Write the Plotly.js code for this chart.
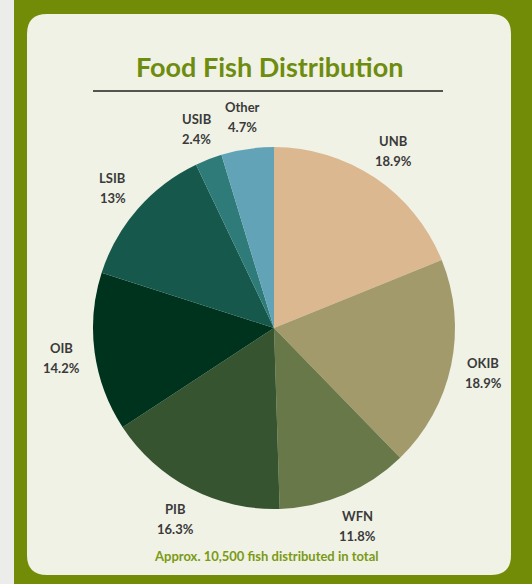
<!DOCTYPE html>
<html>
<head>
<meta charset="utf-8">
<script src="https://cdn.plot.ly/plotly-3.0.1.min.js"></script>
<style>html,body{margin:0;padding:0;background:#ececea;}#chart{width:532px;height:584px;}</style>
</head>
<body>
<div id="chart"></div>
<script>
const categories = ["UNB", "OKIB", "WFN", "PIB", "OIB", "LSIB", "USIB", "Other"];
const shares = [18.9, 18.9, 11.8, 16.3, 14.2, 13, 2.4, 4.7];
const sliceColors = ["#dcb891", "#a39a6c", "#687848", "#35542f", "#00331d", "#16584c", "#2f7b7a", "#62a3b8"];

const W = 532, H = 584;
const cx = 274, cy = 328, R = 181, labelR = 214;

const total = shares.reduce((a, b) => a + b, 0);
const annotations = [];
let acc = 0;
shares.forEach((v, i) => {
  const mid = (acc + v / 2) / total * 2 * Math.PI;
  acc += v;
  const px = cx + labelR * Math.sin(mid);
  const py = cy - labelR * Math.cos(mid);
  const font = {family: "Lato, 'Open Sans', sans-serif", size: 13, color: "#3a3a3a"};
  annotations.push({xref: "paper", yref: "paper", x: px / W, y: 1 - (py - 9) / H,
    text: "<b>" + categories[i] + "</b>", showarrow: false, font: font, xanchor: "center", yanchor: "middle"});
  annotations.push({xref: "paper", yref: "paper", x: px / W, y: 1 - (py + 11) / H,
    text: "<b>" + v + "%</b>", showarrow: false, font: font, xanchor: "center", yanchor: "middle"});
});

annotations.push({xref: "paper", yref: "paper", x: 269 / W, y: 1 - 67 / H,
  text: "<b>Food Fish Distribution</b>", showarrow: false, xanchor: "center", yanchor: "middle",
  font: {family: "Lato, 'Open Sans', sans-serif", size: 27, color: "#6e8c0e"}});
annotations.push({xref: "paper", yref: "paper", x: 266 / W, y: 1 - 556 / H,
  text: "<b>Approx. 10,500 fish distributed in total</b>", showarrow: false, xanchor: "center", yanchor: "middle",
  font: {family: "Lato, 'Open Sans', sans-serif", size: 13, color: "#7a9a14"}});

function rr(x0, y0, x1, y1, r) {
  const X = x => x / W, Y = y => 1 - y / H;
  return `M ${X(x0 + r)} ${Y(y0)} L ${X(x1 - r)} ${Y(y0)} Q ${X(x1)} ${Y(y0)} ${X(x1)} ${Y(y0 + r)} ` +
    `L ${X(x1)} ${Y(y1 - r)} Q ${X(x1)} ${Y(y1)} ${X(x1 - r)} ${Y(y1)} L ${X(x0 + r)} ${Y(y1)} ` +
    `Q ${X(x0)} ${Y(y1)} ${X(x0)} ${Y(y1 - r)} L ${X(x0)} ${Y(y0 + r)} Q ${X(x0)} ${Y(y0)} ${X(x0 + r)} ${Y(y0)} Z`;
}

const shapes = [
  {type: "rect", xref: "paper", yref: "paper", x0: 14 / W, x1: 1, y0: 0, y1: 1, fillcolor: "#738c08", line: {width: 0}, layer: "below"},
  {type: "path", xref: "paper", yref: "paper", path: rr(27, 14, 511, 575, 20), fillcolor: "#f0f2e6", line: {width: 0}, layer: "below"},
  {type: "line", xref: "paper", yref: "paper", x0: 93 / W, x1: 443 / W, y0: 1 - 91 / H, y1: 1 - 91 / H, line: {color: "#555550", width: 2}, layer: "below"}
];

const trace = {
  type: "pie",
  labels: categories,
  values: shares,
  sort: false,
  direction: "clockwise",
  rotation: 0,
  textinfo: "none",
  hoverinfo: "label+value",
  marker: {colors: sliceColors, line: {width: 0}},
  domain: {x: [(cx - R) / W, (cx + R) / W], y: [1 - (cy + R) / H, 1 - (cy - R) / H]},
  showlegend: false
};

Plotly.newPlot("chart", [trace], {
  width: W, height: H,
  margin: {l: 0, r: 0, t: 0, b: 0},
  paper_bgcolor: "#ececea",
  plot_bgcolor: "rgba(0,0,0,0)",
  shapes: shapes,
  annotations: annotations,
  showlegend: false
}, {displayModeBar: false, staticPlot: true});
</script>
</body>
</html>
